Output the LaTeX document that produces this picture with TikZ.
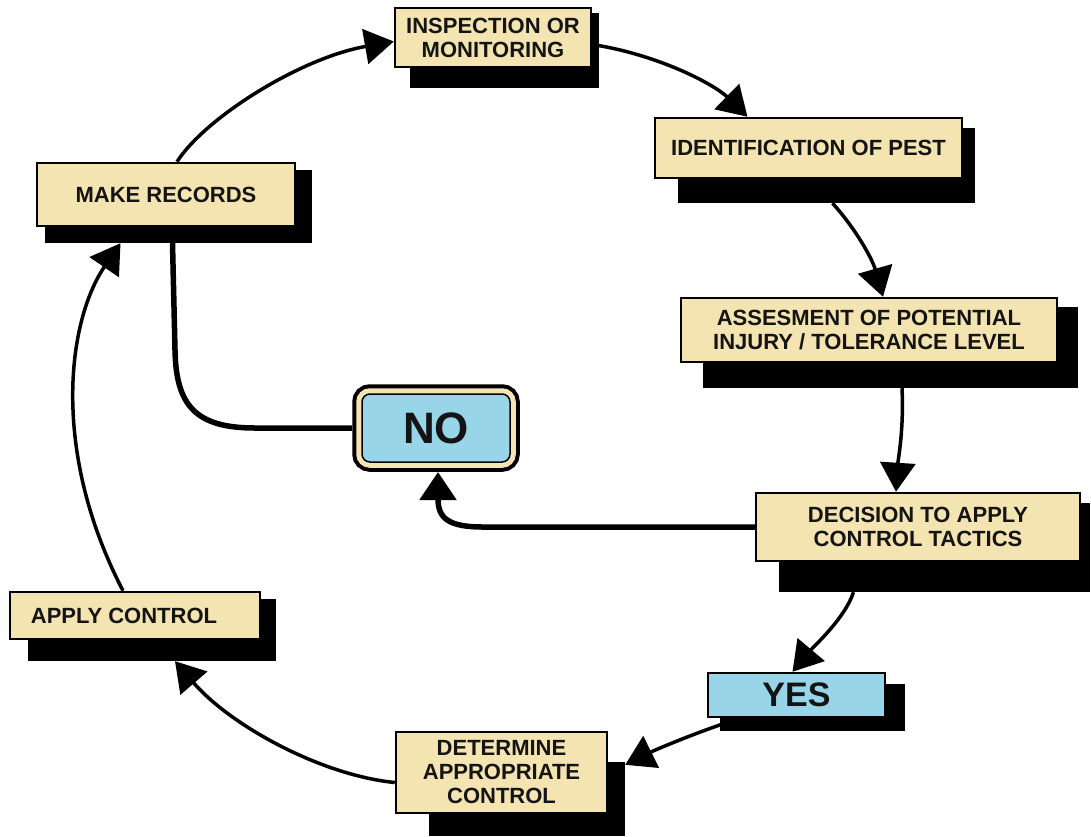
\documentclass[tikz,border=0pt]{standalone}
\usepackage{fontspec}
\setmainfont{Liberation Sans}
\usetikzlibrary{arrows.meta}
\definecolor{cream}{RGB}{244,228,178}
\definecolor{noblue}{RGB}{152,213,233}
\definecolor{txt}{RGB}{20,20,20}
\tikzset{
  box/.style={draw=black, line width=2.5pt, fill=cream, align=center, inner sep=0pt,
    text=txt, font=\fontsize{22}{24}\selectfont\bfseries},
  shd/.style={fill=black, draw=none, inner sep=0pt},
  arr/.style={line width=3.5pt, -{Triangle[length=29pt,width=35pt]}},
  noline/.style={line width=5.5pt},
}
\begin{document}
\begin{tikzpicture}[x=1pt, y=-1pt]
\useasboundingbox (0,0) rectangle (1091,836);
% shadows
\node[shd, minimum width=189pt, minimum height=75pt] (inspS) at (504.5,50.5) {};
\node[shd, minimum width=297pt, minimum height=75pt] (identS) at (826.5,165.5) {};
\node[shd, minimum width=375pt, minimum height=81pt] (assessS) at (890.5,347.5) {};
\node[shd, minimum width=311pt, minimum height=89pt] (decS) at (934.5,547.5) {};
\node[shd, minimum width=185pt, minimum height=47pt] (yesS) at (812.5,707.5) {};
\node[shd, minimum width=196pt, minimum height=74pt] (detS) at (527,799) {};
\node[shd, minimum width=248pt, minimum height=62pt] (applyS) at (152,630) {};
\node[shd, minimum width=267pt, minimum height=73pt] (makeS) at (178.5,206.5) {};
% boxes
\node[box, minimum width=196pt, minimum height=59pt] (insp) at (493,37.5) {INSPECTION OR\\MONITORING};
\node[box, minimum width=307pt, minimum height=60pt] (ident) at (808.5,148) {IDENTIFICATION OF PEST};
\node[box, minimum width=376pt, minimum height=64pt] (assess) at (869,330) {ASSESMENT OF POTENTIAL\\INJURY / TOLERANCE LEVEL};
\node[box, minimum width=324pt, minimum height=68pt] (dec) at (918,527) {DECISION TO APPLY\\CONTROL TACTICS};
\node[box, fill=noblue, minimum width=177pt, minimum height=44pt, font=\fontsize{34}{36}\selectfont\bfseries] (yes) at (796.5,695) {YES};
\node[box, minimum width=211pt, minimum height=81pt] (det) at (501.5,772.5) {DETERMINE\\APPROPRIATE\\CONTROL};
\node[box, minimum width=250pt, minimum height=47pt] (apply) at (135,615.5) {APPLY CONTROL\hspace*{22pt}};
\node[box, minimum width=258pt, minimum height=63pt] (make) at (166,194.5) {MAKE RECORDS};
% NO box
\node[draw=black, line width=1.5pt, fill=noblue, rounded corners=8pt, inner sep=0pt,
  minimum width=148pt, minimum height=68pt, outer sep=10pt, text=txt,
  font=\fontsize{44}{46}\selectfont\bfseries,
  preaction={draw=black, line width=19.5pt},
  preaction={draw=cream, line width=11.5pt}] (NO) at (436,428) {NO};
% connectors
\draw[arr] ([xshift=11pt]make.north) .. controls (205,118) and (300,58) .. ([yshift=-4pt]insp.west);
\draw[arr] ([yshift=-7pt]insp.east) .. controls (660,55) and (715,85) .. ([xshift=-61pt]ident.north);
\draw[arr] ([xshift=6pt]identS.south) .. controls (855,228) and (872,258) .. ([xshift=14pt]assess.north);
\draw[arr] ([xshift=11.5pt]assessS.south) .. controls (904,430) and (898,460) .. ([xshift=-22pt]dec.north);
\draw[noline, -{Triangle[length=28pt,width=36pt]}] (dec.west) -- (483,527) .. controls (448,527) and (438,518) .. ([xshift=2pt]NO.south);
\draw[noline] (NO.west) -- (255,428) .. controls (195,428) and (176,405) .. (175,350) -- ([xshift=-6pt]makeS.south);
\draw[arr] ([xshift=-81pt]decS.south) .. controls (845,618) and (815,645) .. ([xshift=-4pt]yes.north);
\draw[arr] ([xshift=8pt,yshift=9pt]yesS.south west) .. controls (690,735) and (655,750) .. ([yshift=-3pt]detS.north east);
\draw[arr] ([yshift=-10pt]det.west) .. controls (320,775) and (230,725) .. ([xshift=23pt]applyS.south);
\draw[arr] ([xshift=-12pt]apply.north) .. controls (50,450) and (68,320) .. ([xshift=-58pt]makeS.south);
\end{tikzpicture}
\end{document}
